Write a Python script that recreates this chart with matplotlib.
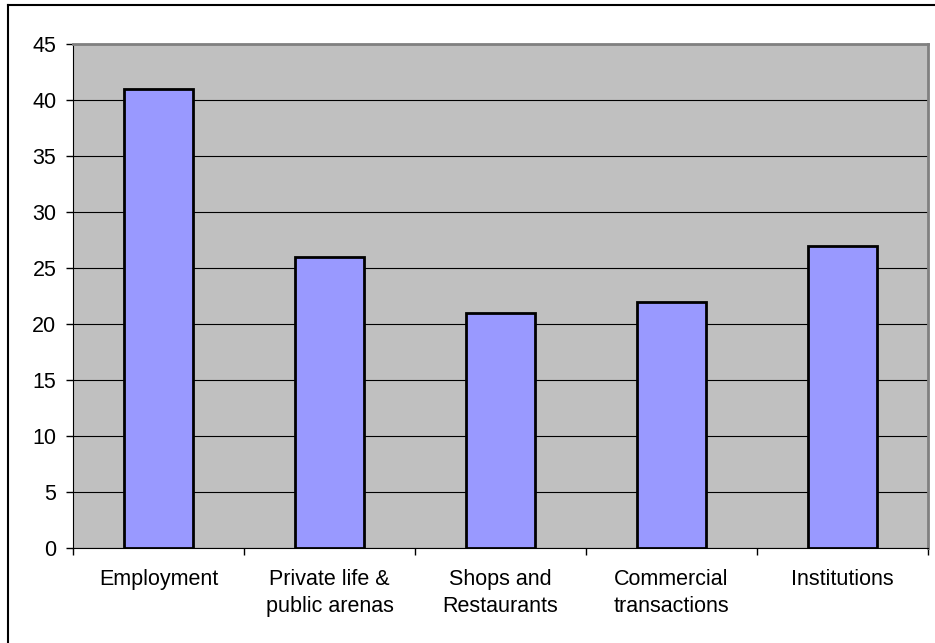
import matplotlib
matplotlib.use("Agg")
import matplotlib.pyplot as plt
from matplotlib.lines import Line2D
import numpy as np

categories = ["Employment", "Private life &\npublic arenas", "Shops and\nRestaurants",
              "Commercial\ntransactions", "Institutions"]
values = [41, 26, 21, 22, 27]
yticks = [0, 5, 10, 15, 20, 25, 30, 35, 40, 45]

plt.rcParams['font.family'] = ['Liberation Sans', 'DejaVu Sans']
fig = plt.figure(figsize=(9.35, 6.43), dpi=100)
ax = fig.add_axes([73/935, 1-548/643, (928-73)/935, (548-44)/643])
ax.set_facecolor('#C0C0C0')

x = np.arange(len(categories))
ax.bar(x, values, width=0.4, color='#9999FF', edgecolor='black', linewidth=2, zorder=3)

ax.set_xlim(-0.5, len(categories)-0.5)
ax.set_ylim(0, 45)
ax.set_yticks(yticks)
ax.set_yticklabels([str(v) for v in yticks], fontsize=15.5)
ax.yaxis.grid(True, color='black', linewidth=0.8, zorder=1)
ax.set_axisbelow(True)

ax.set_xticks(np.arange(-0.5, len(categories)), minor=False)
ax.set_xticklabels([])
ax.set_xticks(x, minor=True)
ax.set_xticklabels(categories, minor=True, fontsize=15.5, linespacing=1.4)
ax.tick_params(axis='x', which='minor', length=0, pad=15)
ax.tick_params(axis='x', which='major', length=5, width=1, direction='out', color='black')
ax.tick_params(axis='y', length=5, width=1, direction='out', pad=7)

ax.spines['left'].set_color('black')
ax.spines['bottom'].set_color('black')
ax.spines['top'].set_color('#808080')
ax.spines['right'].set_color('#808080')
ax.spines['top'].set_linewidth(2)
ax.spines['right'].set_linewidth(2)

# outer chart border (top and left visible)
fig.add_artist(Line2D([8/935, 1.01], [1-5/643, 1-5/643], color='black', linewidth=1.5,
                      transform=fig.transFigure))
fig.add_artist(Line2D([8/935, 8/935], [-0.01, 1-5/643], color='black', linewidth=1.5,
                      transform=fig.transFigure))

fig.savefig("out.png", dpi=100)
